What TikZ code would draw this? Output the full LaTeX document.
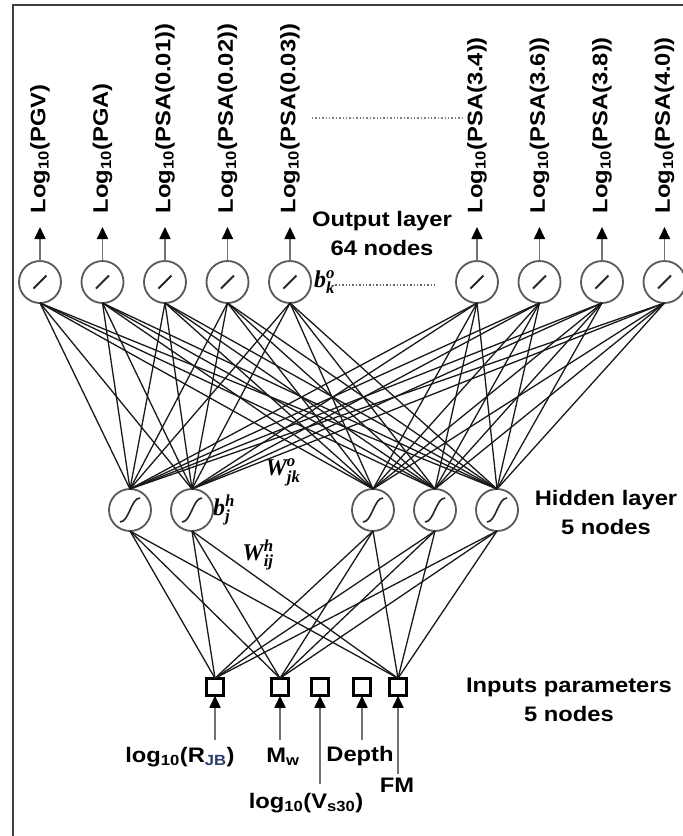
\documentclass[tikz,border=0pt]{standalone}
\usepackage{amsmath}
\usepackage{fontspec}
\setmainfont{Liberation Sans}[FakeStretch=1.13]
\newfontfamily\wfont{Liberation Serif}
\usetikzlibrary{arrows.meta,positioning}
\definecolor{jbblue}{RGB}{40,60,110}
\newcommand{\lblsize}{\fontsize{21}{29}\selectfont}
\newcommand{\wlab}[3]{{\wfont\bfseries\itshape #1}$_{\text{\wfont\bfseries\itshape #2}}^{\text{\wfont\bfseries\itshape #3}}$}

\begin{document}
\begin{tikzpicture}[x=1pt, y=1pt,
    outnode/.style={circle, draw=black!65, line width=1.8pt, minimum size=42pt, inner sep=0pt, outer sep=0pt,
        path picture={\draw[line width=2pt, black!85] (path picture bounding box.center) ++(-6.5pt,-6.5pt) -- ++(13pt,13pt);}},
    hidnode/.style={circle, draw=black!65, line width=1.8pt, minimum size=42pt, inner sep=0pt, outer sep=0pt,
        path picture={\draw[line width=1.6pt, black!85] (path picture bounding box.center) ++(-10pt,-12pt) .. controls +(9pt,0pt) and +(-9pt,0pt) .. ++(20pt,24pt);}},
    innode/.style={draw=black, line width=2.6pt, minimum size=17.5pt, inner sep=0pt, outer sep=0pt},
    outlabel/.style={rotate=90, anchor=west, inner sep=0pt, outer sep=0pt, font=\bfseries\lblsize},
    inlabel/.style={anchor=base, inner sep=0pt, font=\bfseries\lblsize},
    layer/.style={align=center, inner sep=0pt, font=\bfseries\lblsize},
    wlab/.style={inner sep=0pt, font=\fontsize{24}{24}\selectfont},
    link/.style={line width=1.3pt, black!90},
    arrow/.style={-{Triangle[length=12pt, width=11pt, color=black]}, line width=1.7pt, draw=black!55},
    dotline/.style={dotted, line width=1.4pt, black!50},
    frame/.style={draw=black!75, line width=2.5pt}
]
\useasboundingbox[fill=white] (0,0) rectangle (683,-836);
\clip (0,0) rectangle (683,-836);
\draw[frame] (13,-5) rectangle (700,-850);

% output layer
\node[outnode] (o1) at (40,-282) {};
\node[outnode, right=20.5pt of o1] (o2) {};
\node[outnode, right=20.5pt of o2] (o3) {};
\node[outnode, right=20.5pt of o3] (o4) {};
\node[outnode, right=20.5pt of o4] (o5) {};
\node[outnode, right=145pt of o5] (o6) {};
\node[outnode, right=20.5pt of o6] (o7) {};
\node[outnode, right=20.5pt of o7] (o8) {};
\node[outnode, right=20.5pt of o8] (o9) {};

\node[above=48pt of o1, outlabel] (t1) {Log\textsubscript{10}(PGV)};
\node[above=48pt of o2, outlabel] (t2) {Log\textsubscript{10}(PGA)};
\node[above=48pt of o3, outlabel] (t3) {Log\textsubscript{10}(PSA(0.01))};
\node[above=48pt of o4, outlabel] (t4) {Log\textsubscript{10}(PSA(0.02))};
\node[above=48pt of o5, outlabel] (t5) {Log\textsubscript{10}(PSA(0.03))};
\node[above=48pt of o6, outlabel] (t6) {Log\textsubscript{10}(PSA(3.4))};
\node[above=48pt of o7, outlabel] (t7) {Log\textsubscript{10}(PSA(3.6))};
\node[above=48pt of o8, outlabel] (t8) {Log\textsubscript{10}(PSA(3.8))};
\node[above=48pt of o9, outlabel] (t9) {Log\textsubscript{10}(PSA(4.0))};
\draw[arrow, shorten >=14pt] (o1) -- (t1);
\draw[arrow, shorten >=14pt] (o2) -- (t2);
\draw[arrow, shorten >=14pt] (o3) -- (t3);
\draw[arrow, shorten >=14pt] (o4) -- (t4);
\draw[arrow, shorten >=14pt] (o5) -- (t5);
\draw[arrow, shorten >=14pt] (o6) -- (t6);
\draw[arrow, shorten >=14pt] (o7) -- (t7);
\draw[arrow, shorten >=14pt] (o8) -- (t8);
\draw[arrow, shorten >=14pt] (o9) -- (t9);
\draw[dotline] (312,-118) -- (462,-118);

\node[layer] (outtxt) at (382,-233) {Output layer\\64 nodes};
\node[wlab, right=3pt of o5] (bko) {\wlab{b}{k}{o}};
\draw[dotline, black!60] ([yshift=-3pt]bko.east) -- ++(100,0);

% hidden layer
\node[hidnode] (h1) at (130,-510) {};
\node[hidnode, right=20pt of h1] (h2) {};
\node[hidnode, right=139pt of h2] (h3) {};
\node[hidnode, right=20pt of h3] (h4) {};
\node[hidnode, right=20pt of h4] (h5) {};
\node[layer] (hidtxt) at (606,-512) {Hidden layer\\5 nodes};
\node[wlab, right=0pt of h2] (bjh) {\wlab{b}{j}{h}};

\draw[link] (o1.south) edge (h1.north) edge (h2.north) edge (h3.north) edge (h4.north) edge (h5.north);
\draw[link] (o2.south) edge (h1.north) edge (h2.north) edge (h3.north) edge (h4.north) edge (h5.north);
\draw[link] (o3.south) edge (h1.north) edge (h2.north) edge (h3.north) edge (h4.north) edge (h5.north);
\draw[link] (o4.south) edge (h1.north) edge (h2.north) edge (h3.north) edge (h4.north) edge (h5.north);
\draw[link] (o5.south) edge (h1.north) edge (h2.north) edge (h3.north) edge (h4.north) edge (h5.north);
\draw[link] (o6.south) edge (h1.north) edge (h2.north) edge (h3.north) edge (h4.north) edge (h5.north);
\draw[link] (o7.south) edge (h1.north) edge (h2.north) edge (h3.north) edge (h4.north) edge (h5.north);
\draw[link] (o8.south) edge (h1.north) edge (h2.north) edge (h3.north) edge (h4.north) edge (h5.north);
\draw[link] (o9.south) edge (h1.north) edge (h2.north) edge (h3.north) edge (h4.north) edge (h5.north);
\node[wlab] (wjko) at (283,-472) {\wlab{W}{jk}{o}};

% input layer
\node[innode] (i1) at (215,-687) {};
\node[innode, right=47.5pt of i1] (i2) {};
\node[innode, right=22.5pt of i2] (i3) {};
\node[innode, right=24.5pt of i3] (i4) {};
\node[innode, right=18.5pt of i4] (i5) {};
\node[layer] (intxt) at (569,-700) {Inputs parameters\\5 nodes};

\draw[link] (i1.north) edge (h1.south) edge (h2.south) edge (h3.south) edge (h4.south) edge (h5.south);
\draw[link] (i2.north) edge (h1.south) edge (h2.south) edge (h3.south) edge (h4.south) edge (h5.south);
\draw[link] (i5.north) edge (h1.south) edge (h2.south) edge (h3.south) edge (h4.south) edge (h5.south);
\node[wlab] (wijh) at (258,-555) {\wlab{W}{ij}{h}};

\coordinate[below=44pt of i1] (a1);
\coordinate[below=44pt of i2] (a2);
\coordinate[below=88pt of i3] (a3);
\coordinate[below=44pt of i4] (a4);
\coordinate[below=78pt of i5] (a5);
\draw[arrow] (a1) -- (i1);
\draw[arrow] (a2) -- (i2);
\draw[arrow] (a3) -- (i3);
\draw[arrow] (a4) -- (i4);
\draw[arrow] (a5) -- (i5);

\node[inlabel] (l1) at (180,-762) {log\textsubscript{10}(R\textsubscript{\color{jbblue}JB})};
\node[inlabel] (l2) at (283,-762) {M\textsubscript{w}};
\node[inlabel] (l3) at (306,-808) {log\textsubscript{10}(V\textsubscript{s30})};
\node[inlabel] (l4) at (360,-761) {Depth};
\node[inlabel] (l5) at (397,-792) {FM};
\end{tikzpicture}
\end{document}
